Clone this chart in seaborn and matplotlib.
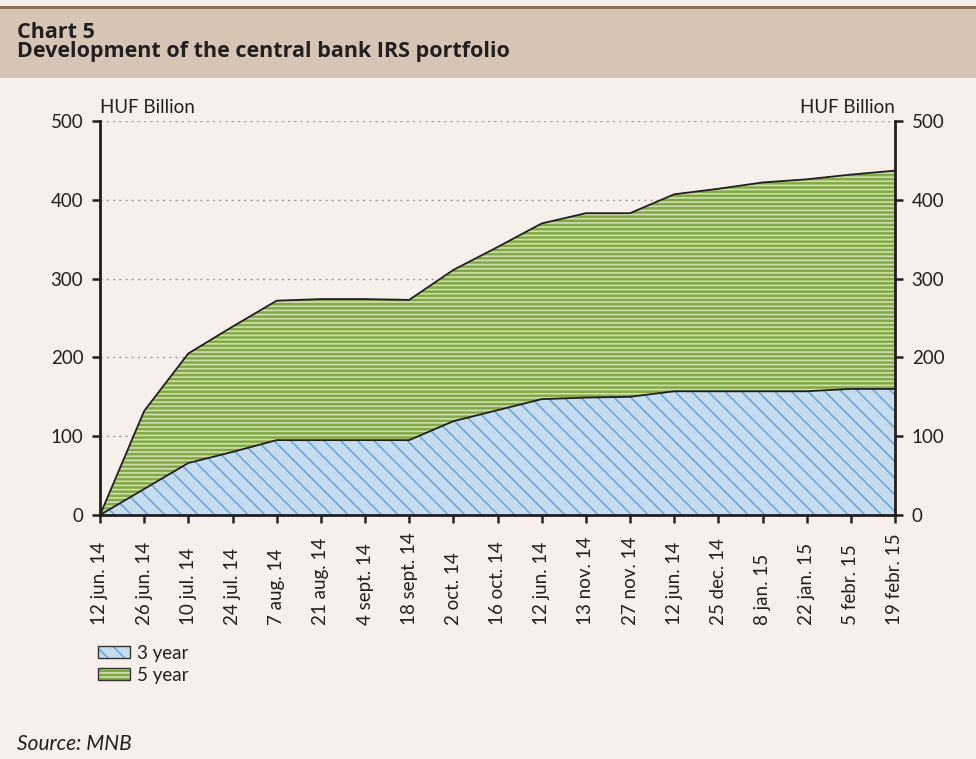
import numpy as np
import pandas as pd
import seaborn as sns
import matplotlib.pyplot as plt
from matplotlib.patches import Patch, Rectangle
from matplotlib.legend_handler import HandlerTuple

# data
dates = ['12 jun. 14', '26 jun. 14', '10 jul. 14', '24 jul. 14', '7 aug. 14',
         '21 aug. 14', '4 sept. 14', '18 sept. 14', '2 oct. 14', '16 oct. 14',
         '12 jun. 14', '13 nov. 14', '27 nov. 14', '12 jun. 14', '25 dec. 14',
         '8 jan. 15', '22 jan. 15', '5 febr. 15', '19 febr. 15']
three_year = [0, 33, 66, 80, 95, 95, 95, 95, 119, 133, 147, 149, 150, 157, 157, 157, 157, 160, 160]
total = [0, 132, 205, 239, 272, 274, 274, 273, 311, 340, 370, 383, 383, 407, 414, 422, 426, 432, 437]
five_year = [t - s for t, s in zip(total, three_year)]

df = pd.DataFrame({'pos': np.arange(len(dates)), 'date': dates,
                   '3 year': three_year, '5 year': five_year, 'total': total})

sns.set_theme(style='white')
plt.rcParams['font.family'] = ['Lato', 'DejaVu Sans']
plt.rcParams['hatch.linewidth'] = 1.2

bg = '#f6efec'
blue_face, blue_hatch = '#c5dcef', '#6ea7d7'
green_face, green_hatch = '#82aa44', '#cfdeb0'
dark = '#231f20'

fig = plt.figure(figsize=(9.76, 7.59), dpi=100, facecolor=bg)

# header band
fig.patches.append(Rectangle((0, 1 - 78 / 759), 1, 70 / 759, transform=fig.transFigure,
                             facecolor='#d6c5b5', edgecolor='none', zorder=0))
fig.patches.append(Rectangle((0, 1 - 8.5 / 759), 1, 2.5 / 759, transform=fig.transFigure,
                             facecolor='#8c7059', edgecolor='none', zorder=0))
fig.text(17 / 976, 1 - 38 / 759, 'Chart 5', fontsize=15.5, fontweight='bold', color=dark,
         family=['Open Sans', 'DejaVu Sans'], va='baseline')
fig.text(17 / 976, 1 - 57 / 759, 'Development of the central bank IRS portfolio',
         fontsize=15.5, fontweight='bold', color=dark,
         family=['Open Sans', 'DejaVu Sans'], va='baseline')

ax = fig.add_axes([100 / 976, 1 - 515 / 759, 795 / 976, 394 / 759])
ax.set_facecolor(bg)

x = df['pos'].to_numpy()
ax.fill_between(x, 0, df['3 year'], facecolor=blue_face, edgecolor=blue_hatch,
                hatch='\\\\', linewidth=0, zorder=1)
ax.fill_between(x, df['3 year'], df['total'], facecolor=green_face, edgecolor=green_hatch,
                hatch='----', linewidth=0, zorder=1)
sns.lineplot(data=df, x='pos', y='3 year', color=dark, linewidth=1.3, ax=ax, zorder=2)
sns.lineplot(data=df, x='pos', y='total', color=dark, linewidth=1.3, ax=ax, zorder=2)

ax.set_xlim(0, len(dates) - 1)
ax.set_ylim(0, 500)
ax.set_xticks(x)
ax.set_xticklabels([])
ax.set_yticks(range(0, 501, 100))
ax.set_xlabel('')
ax.set_ylabel('')
ax.yaxis.grid(True, linestyle=(0, (1.5, 3)), color='#9c9c9c', linewidth=1)
ax.set_axisbelow(True)

# date labels: rotated, aligned at their start (bottom)
for pos, label in zip(x, dates):
    ax.text(pos, -110 / 394, label, transform=ax.get_xaxis_transform(), rotation=90,
            ha='center', va='bottom', fontsize=13.5, color=dark)

for side in ['left', 'bottom', 'right']:
    ax.spines[side].set_color(dark)
    ax.spines[side].set_linewidth(2)
ax.spines['top'].set_visible(False)

ax.tick_params(axis='y', left=True, right=True, labelleft=True, labelright=True,
               direction='out', length=6, width=1.8, labelsize=13.5, colors=dark, pad=6)
ax.tick_params(axis='x', bottom=True, direction='out', length=6, width=1.8)

ax.text(0, 1.012, 'HUF Billion', transform=ax.transAxes, fontsize=13.5, color=dark,
        ha='left', va='bottom')
ax.text(1, 1.012, 'HUF Billion', transform=ax.transAxes, fontsize=13.5, color=dark,
        ha='right', va='bottom')

h3 = (Patch(facecolor=blue_face, edgecolor=blue_hatch, hatch='\\\\', linewidth=0),
      Patch(facecolor='none', edgecolor='#333333', linewidth=1))
h5 = (Patch(facecolor=green_face, edgecolor=green_hatch, hatch='----', linewidth=0),
      Patch(facecolor='none', edgecolor='#333333', linewidth=1))
fig.legend([h3, h5], ['3 year', '5 year'], handler_map={tuple: HandlerTuple(ndivide=1, pad=0)},
           loc='upper left', bbox_to_anchor=(98 / 976, 1 - 645 / 759), frameon=False,
           fontsize=13.5, handlelength=1.7, handleheight=0.6, handletextpad=0.4,
           labelspacing=0.25, borderpad=0, borderaxespad=0, labelcolor=dark)

fig.text(17 / 976, 1 - 750 / 759, 'Source: MNB', fontsize=15, fontstyle='italic', color=dark)

fig.savefig('out.png', dpi=100, facecolor=bg)
